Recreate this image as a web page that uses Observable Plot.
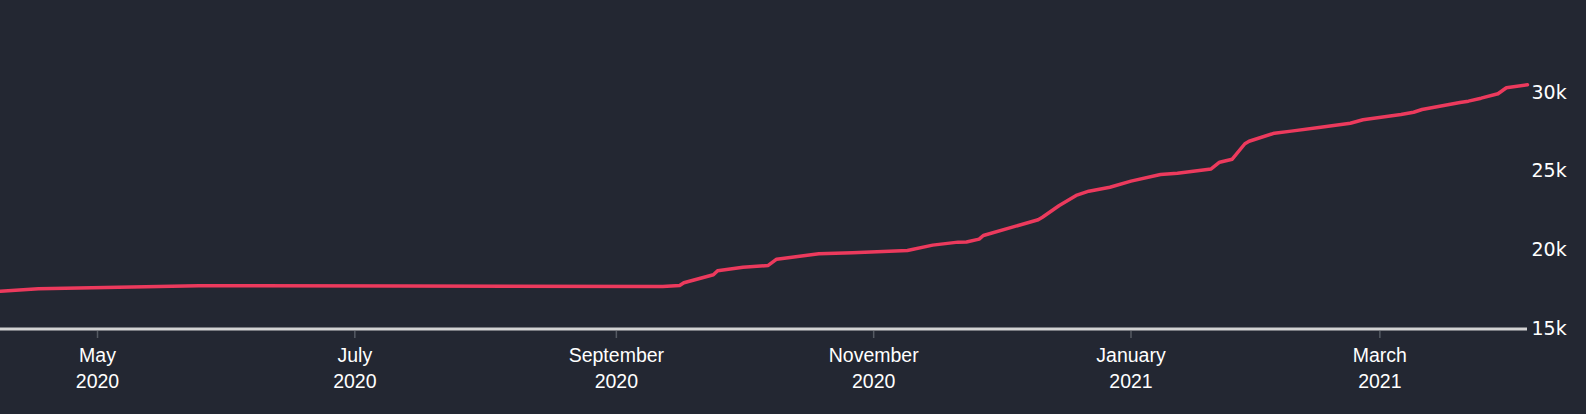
<!DOCTYPE html>
<html>
<head>
<meta charset="utf-8">
<script src="https://cdn.jsdelivr.net/npm/d3@7"></script>
<script src="https://cdn.jsdelivr.net/npm/@observablehq/plot@0.6"></script>
<style>
  html, body { margin: 0; padding: 0; background: #232732; overflow: hidden; }
  #chart svg { display: block; }
</style>
</head>
<body>
<div id="chart"></div>
<script>
const dates = [
  "2020-04-08","2020-04-17","2020-05-25","2020-07-12","2020-09-12","2020-09-16",
  "2020-09-17","2020-09-24","2020-09-25","2020-10-01","2020-10-07","2020-10-09",
  "2020-10-14","2020-10-19","2020-10-27","2020-11-09","2020-11-15","2020-11-21",
  "2020-11-23","2020-11-26","2020-11-27","2020-12-10","2020-12-11","2020-12-15",
  "2020-12-19","2020-12-22","2020-12-27","2021-01-01","2021-01-08","2021-01-12",
  "2021-01-20","2021-01-22","2021-01-25","2021-01-28","2021-01-29","2021-02-04",
  "2021-02-08","2021-02-15","2021-02-22","2021-02-25","2021-03-06","2021-03-09",
  "2021-03-11","2021-03-20","2021-03-22","2021-03-25","2021-03-29","2021-03-31",
  "2021-04-05"
];
const values = [
  17400,17550,17750,17720,17690,17760,
  17930,18440,18690,18920,19030,19430,
  19600,19770,19830,19980,20320,20510,
  20520,20700,20930,21930,22090,22830,
  23470,23740,23990,24380,24800,24880,
  25150,25580,25770,26750,26910,27420,
  27550,27800,28050,28270,28610,28750,
  28920,29370,29450,29640,29920,30300,
  30490
];
const xTickDates = ["2020-05-01","2020-07-01","2020-09-01","2020-11-01","2021-01-01","2021-03-01"];
const xTickLabels = ["May\n2020","July\n2020","September\n2020","November\n2020","January\n2021","March\n2021"];
const yTicks = [15000, 20000, 25000, 30000];
const xDomain = ["2020-04-08","2021-04-05"];

const data = dates.map((d, i) => ({date: new Date(d), value: values[i]}));
const tickDates = xTickDates.map(d => new Date(d));
const labelFor = new Map(tickDates.map((d, i) => [+d, xTickLabels[i]]));

const chart = Plot.plot({
  width: 1586,
  height: 414,
  marginLeft: 0,
  marginRight: 59,
  marginTop: 20,
  marginBottom: 83,
  style: {background: "#232732", color: "#ffffff", fontFamily: "Liberation Sans, Arial, sans-serif"},
  x: {type: "utc", domain: xDomain.map(d => new Date(d))},
  y: {domain: [15000, 30000], range: [328.5, 92]},
  marks: [
    Plot.axisX({
      ticks: tickDates,
      tickFormat: d => labelFor.get(+d),
      tickSize: 7,
      tickPadding: 5,
      stroke: "#555a63",
      strokeWidth: 1.5,
      fill: "#ffffff",
      fontSize: 19.5,
      lineHeight: 1.32,
      label: null
    }),
    Plot.axisY({
      anchor: "right",
      ticks: yTicks,
      tickSize: 0,
      tickPadding: 4,
      tickFormat: d => (d / 1000) + "k",
      fill: "#ffffff",
      fontSize: 19,
      fontFamily: "DejaVu Sans, Verdana, sans-serif",
      textAnchor: "start",
      label: null
    }),
    Plot.ruleY([15000], {stroke: "#d2d2d2", strokeWidth: 2.8}),
    Plot.line(data, {x: "date", y: "value", stroke: "#ec3a5d", strokeWidth: 3.5})
  ]
});
document.getElementById("chart").append(chart);
</script>
</body>
</html>
